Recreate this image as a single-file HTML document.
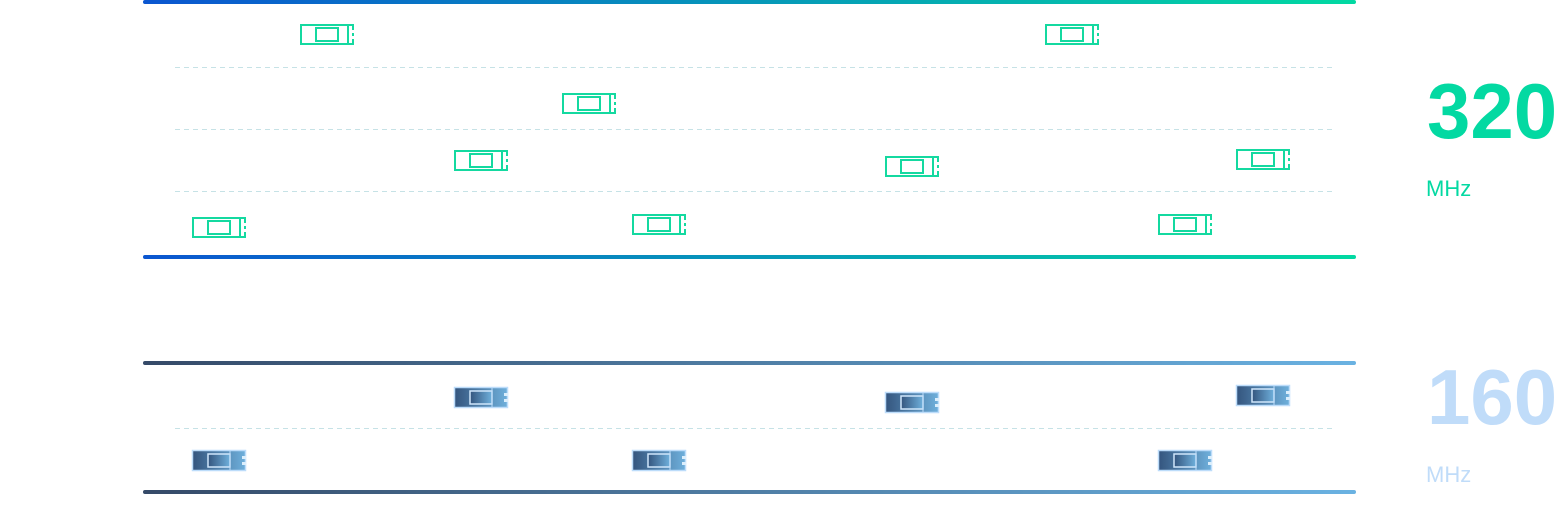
<!DOCTYPE html>
<html><head><meta charset="utf-8"><style>
html,body{margin:0;padding:0;background:#fff;width:1560px;height:514px;overflow:hidden}
svg{display:block}
text{font-family:"Liberation Sans",sans-serif}
</style></head><body>
<svg width="1560" height="514" viewBox="0 0 1560 514" xmlns="http://www.w3.org/2000/svg">
<defs>
<linearGradient id="gt" x1="0" x2="1"><stop offset="0" stop-color="#0a56d0"/><stop offset="1" stop-color="#02d9a2"/></linearGradient>
<linearGradient id="gb" x1="0" x2="1"><stop offset="0" stop-color="#354a68"/><stop offset="1" stop-color="#6ab2e2"/></linearGradient>
<linearGradient id="bf" x1="0" x2="1"><stop offset="0" stop-color="#34557e"/><stop offset="1" stop-color="#6fb0dc"/></linearGradient>
<g id="g">
<rect x="1" y="1" width="52" height="19" fill="#fff" stroke="#14d9a0" stroke-width="2"/>
<rect x="16" y="4" width="22" height="13" fill="none" stroke="#14d9a0" stroke-width="2"/>
<line x1="48" y1="1" x2="48" y2="20" stroke="#14d9a0" stroke-width="2"/>
<rect x="50" y="6" width="4" height="3" fill="#fff"/><rect x="50" y="12" width="4" height="3" fill="#fff"/>
</g>
<g id="b">
<rect x="0.5" y="0.5" width="53" height="20" fill="url(#bf)" stroke="#bcdcfa" stroke-width="1.5"/>
<rect x="16" y="4" width="22" height="13" fill="url(#bf)" stroke="#cfe6fb" stroke-width="1.5"/>
<line x1="38" y1="1" x2="38" y2="20" stroke="#bcdcfa" stroke-width="1"/>
<rect x="50" y="6" width="4" height="3" fill="#dbeefc"/><rect x="50" y="12" width="4" height="3" fill="#dbeefc"/>
</g>
</defs>
<rect x="143" y="0" width="1213" height="4" rx="2" fill="url(#gt)"/>
<rect x="143" y="255" width="1213" height="4" rx="2" fill="url(#gt)"/>
<g stroke="#c6e2e6" stroke-width="1" stroke-dasharray="5,4">
<line x1="175" y1="67.5" x2="1335" y2="67.5"/>
<line x1="175" y1="129.5" x2="1335" y2="129.5"/>
<line x1="175" y1="191.5" x2="1335" y2="191.5"/>
<line x1="175" y1="428.5" x2="1335" y2="428.5"/>
</g>
<rect x="143" y="361" width="1213" height="4" rx="2" fill="url(#gb)"/>
<rect x="143" y="490" width="1213" height="4" rx="2" fill="url(#gb)"/>
<use href="#g" x="300" y="24"/><use href="#g" x="1045" y="24"/>
<use href="#g" x="562" y="93"/>
<use href="#g" x="454" y="150"/><use href="#g" x="885" y="156"/><use href="#g" x="1236" y="149"/>
<use href="#g" x="192" y="217"/><use href="#g" x="632" y="214"/><use href="#g" x="1158" y="214"/>
<use href="#b" x="454" y="387"/><use href="#b" x="885" y="392"/><use href="#b" x="1236" y="385"/>
<use href="#b" x="192" y="450"/><use href="#b" x="632" y="450"/><use href="#b" x="1158" y="450"/>
<text x="1427" y="138" font-size="78" font-weight="bold" fill="#03d9a2">320</text>
<text x="1426" y="196" font-size="22" fill="#03d9a2">MHz</text>
<text x="1427" y="424" font-size="78" font-weight="bold" fill="#c0dcf9">160</text>
<text x="1426" y="482" font-size="22" fill="#c0dcf9">MHz</text>
</svg>
</body></html>
